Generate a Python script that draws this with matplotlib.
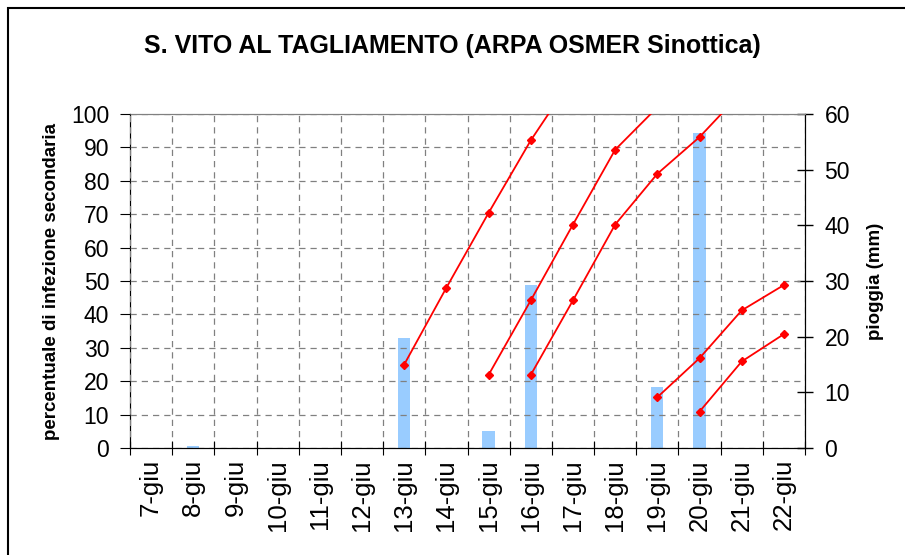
import numpy as np
import matplotlib
matplotlib.use('Agg')
import matplotlib.pyplot as plt
from matplotlib.patches import Rectangle

plt.rcParams['font.family'] = ['Liberation Sans', 'DejaVu Sans']

giorni = ['7-giu', '8-giu', '9-giu', '10-giu', '11-giu', '12-giu', '13-giu', '14-giu',
          '15-giu', '16-giu', '17-giu', '18-giu', '19-giu', '20-giu', '21-giu', '22-giu']

# pioggia giornaliera (mm), asse destro
pioggia = [0, 0.4, 0, 0, 0, 0, 19.8, 0, 3.0, 29.2, 0, 0, 11.0, 56.6, 0, 0]

# percentuale di infezione secondaria, una curva per ogni evento
nan = np.nan
inf_13 = [nan]*6 + [25, 48, 70.4, 92.1, 111] + [nan]*5
inf_15 = [nan]*8 + [21.9, 44.2, 66.9, 89.3, 102] + [nan]*3
inf_16 = [nan]*9 + [21.9, 44.2, 66.9, 82.1, 93.1, 106.5] + [nan]
inf_19 = [nan]*12 + [15.2, 26.9, 41.2, 48.8]
inf_20 = [nan]*13 + [10.9, 25.9, 34.1]
curve = [inf_13, inf_15, inf_16, inf_19, inf_20]

x = np.arange(len(giorni))

fig = plt.figure(figsize=(9.05, 5.55), dpi=100)
ax = fig.add_axes([130/905, 1-448/555, 675/905, 334/555])
ax2 = ax.twinx()

# barre pioggia sull'asse secondario
ax2.bar(x, pioggia, width=0.29, color='#99CCFF', zorder=2)
ax2.set_ylim(0, 60)
ax2.set_yticks(range(0, 61, 10))
ax2.tick_params(axis='y', direction='inout', length=12, width=1, labelsize=16.5, pad=8)
ax2.set_ylabel('pioggia (mm)', fontsize=13.5, fontweight='bold', labelpad=12)

# curve di infezione davanti alle barre
ax2.set_zorder(1)
ax.set_zorder(2)
ax.patch.set_visible(False)
for c in curve:
    ax.plot(x, c, color='red', lw=1.3, marker='D', markersize=4.5, zorder=3, clip_on=True)

ax.set_ylim(0, 100)
ax.set_xlim(-0.5, len(giorni) - 0.5)
ax.set_yticks(range(0, 101, 10))
ax.set_xticks(np.arange(-0.5, len(giorni), 1))
ax.set_xticklabels([])
ax.set_xticks(x, minor=True)
ax.set_xticklabels(giorni, minor=True, rotation=90, fontsize=18.5)
ax.tick_params(axis='x', which='major', direction='inout', length=10)
ax.tick_params(axis='x', which='minor', length=0, pad=8)
ax.tick_params(axis='y', direction='out', length=7, labelsize=16.5, pad=8)
ax.set_ylabel('percentuale di infezione secondaria', fontsize=13.5, fontweight='bold', labelpad=8)

ax.grid(True, which='major', color='#808080', ls=(0, (5, 4)), lw=0.9)
ax.set_axisbelow(False)
for ln in ax.get_xgridlines() + ax.get_ygridlines():
    ln.set_zorder(0.5)

for a in (ax, ax2):
    a.spines['top'].set_color('#808080')
    a.spines['left'].set_color('black')
    a.spines['right'].set_color('black')
    a.spines['bottom'].set_color('black')

fig.text(0.5, 1-46/555, 'S. VITO AL TAGLIAMENTO (ARPA OSMER Sinottica)',
         ha='center', va='center', fontsize=18, fontweight='bold')

# cornice del grafico
fig.add_artist(Rectangle((8/905, -0.1), 1.5, 1.1 - 8/555, transform=fig.transFigure,
                         fill=False, ec='black', lw=1.5))

fig.savefig('out.png', dpi=100)
